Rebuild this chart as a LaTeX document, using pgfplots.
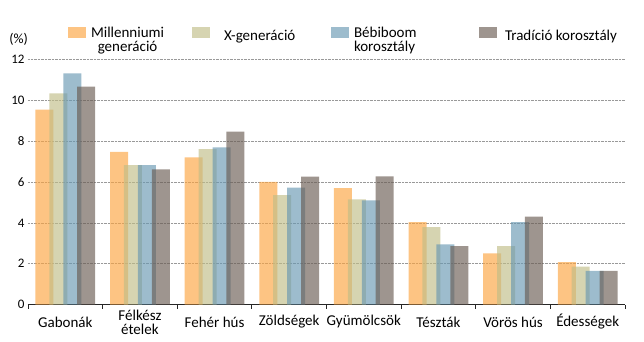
\documentclass[border=0pt]{standalone}
\usepackage{fontspec}
\setmainfont{Carlito}
\usepackage{pgfplots}
\pgfplotsset{compat=1.18}
\definecolor{cOr}{RGB}{252,164,64}
\definecolor{cGr}{RGB}{192,189,135}
\definecolor{cBl}{RGB}{104,152,178}
\definecolor{cGy}{RGB}{106,92,83}
\begin{document}
\begin{tikzpicture}
\begin{axis}[
  at={(0pt,0pt)}, anchor=south west,
  scale only axis, width=597pt, height=245pt,
  ybar, bar width=18pt,
  xmin=-0.5, xmax=7.5, ymin=0, ymax=12,
  xtick={0,...,7},
  xticklabels={Gabonák,{Félkész\\ételek},Fehér hús,Zöldségek,Gyümölcsök,Tészták,Vörös hús,Édességek},
  minor xtick={-0.5,0.5,...,7.5},
  ytick={0,2,...,12},
  major tick length=0pt, minor tick length=4pt, tick align=outside,
  xtick style={draw=black!85, line width=0.8pt},
  ytick style={draw=none},
  axis x line*=bottom, axis y line*=left,
  y axis line style={draw=none},
  x axis line style={draw=black!85, line width=0.9pt},
  ymajorgrids, major grid style={densely dotted, draw=gray!80, line width=0.5pt},
  /pgf/number format/assume math mode=true,
  xticklabel style={font=\fontsize{15}{14}\selectfont, align=center, anchor=center, yshift=-17.5pt},
  yticklabel style={font=\fontsize{13}{14}\selectfont},
  legend columns=4,
  legend style={draw=none, fill=none, inner sep=0pt, outer sep=0pt,
    at={(axis description cs:0.0670,1)}, anchor=west, yshift=23pt,
    font=\fontsize{15}{13.5}\selectfont,
    nodes={inner sep=0pt, outer sep=0pt},
    /tikz/every even column/.append style={column sep=0pt},
    /tikz/every odd column/.append style={column sep=0pt}},
  legend cell align=left,
  legend image code/.code={\fill[#1] (0pt,-1.5pt) rectangle (18pt,9.5pt);},
]
\addplot[fill=cOr, fill opacity=0.65, draw=none, bar shift=-20.85pt] coordinates
  {(0,9.54) (1,7.48) (2,7.20) (3,6.00) (4,5.70) (5,4.03) (6,2.51) (7,2.07)};
\addlegendentry{\makebox[106pt][l]{\hspace*{5pt}\begin{tabular}{@{}c@{}}Millenniumi\\generáció\end{tabular}}}
\addplot[fill=cGr, fill opacity=0.65, draw=none, bar shift=-6.95pt] coordinates
  {(0,10.34) (1,6.83) (2,7.61) (3,5.36) (4,5.15) (5,3.79) (6,2.86) (7,1.85)};
\addlegendentry{\makebox[121pt][l]{\hspace*{14pt}X-generáció}}
\addplot[fill=cBl, fill opacity=0.65, draw=none, bar shift=6.95pt] coordinates
  {(0,11.32) (1,6.83) (2,7.70) (3,5.73) (4,5.10) (5,2.94) (6,4.03) (7,1.65)};
\addlegendentry{\makebox[130pt][l]{\hspace*{5pt}\begin{tabular}{@{}l@{}}Bébiboom\\korosztály\end{tabular}}}
\addplot[fill=cGy, fill opacity=0.65, draw=none, bar shift=20.85pt] coordinates
  {(0,10.67) (1,6.62) (2,8.47) (3,6.26) (4,6.27) (5,2.86) (6,4.31) (7,1.65)};
\addlegendentry{\hspace*{8pt}Tradíció korosztály}
\end{axis}
\node[anchor=east, inner sep=0pt, font=\fontsize{14}{14}\selectfont] at (0pt,265.5pt) {(\%)};
\pgfresetboundingbox
\useasboundingbox (-28pt,-37.5pt) rectangle (616pt,304.5pt);
\end{tikzpicture}
\end{document}
